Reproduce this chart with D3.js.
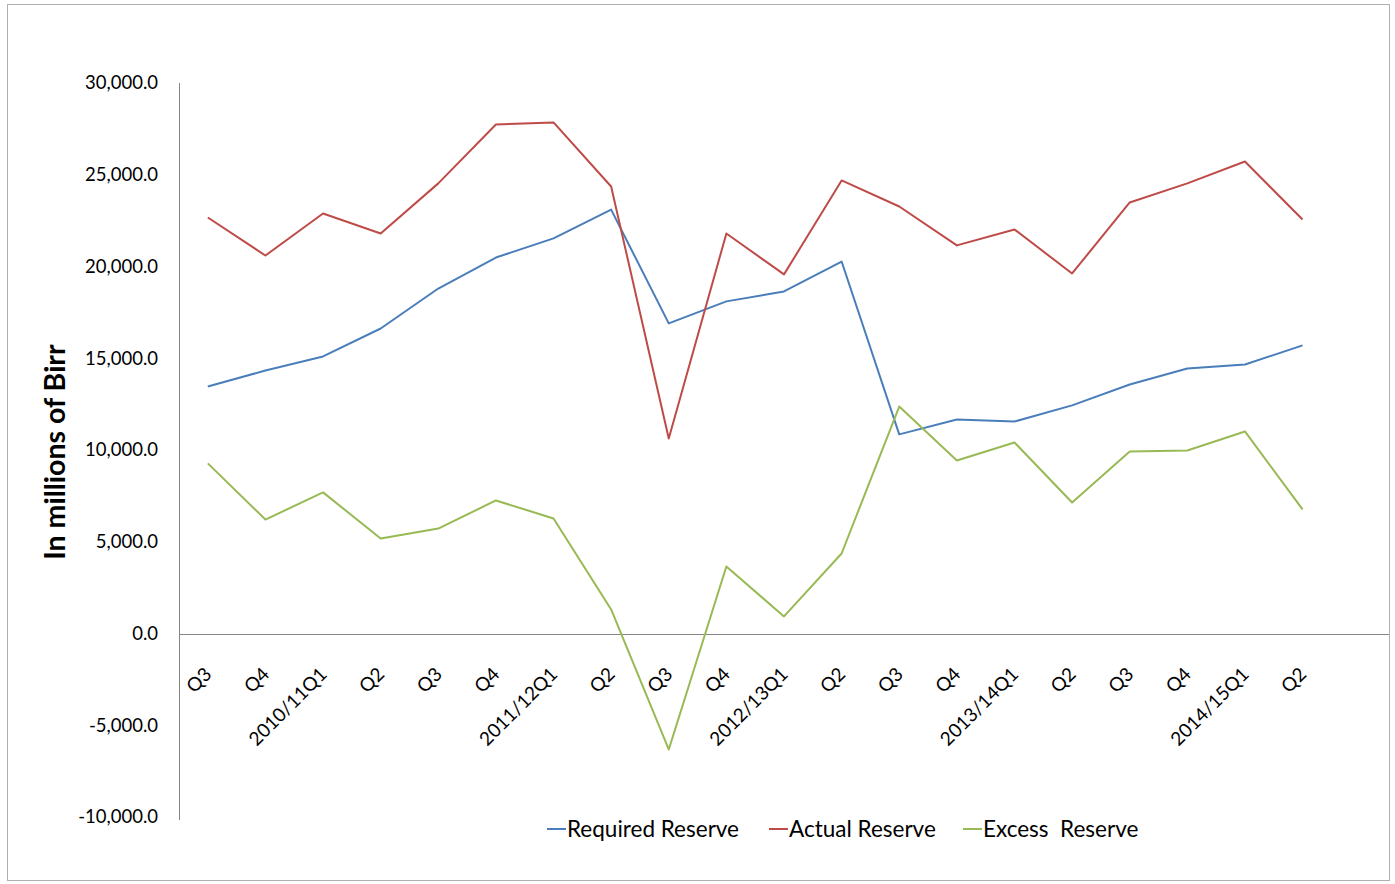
<!DOCTYPE html>
<html>
<head>
<meta charset="utf-8">
<script src="https://cdn.jsdelivr.net/npm/d3@7"></script>
<style>
  html, body { margin: 0; padding: 0; background: #fff; }
  svg { display: block; font-family: Lato, "Open Sans", "Liberation Sans", sans-serif; }
</style>
</head>
<body>
<svg id="chart" width="1395" height="884"></svg>
<script>
const categories = ["Q3","Q4","2010/11Q1","Q2","Q3","Q4","2011/12Q1","Q2","Q3","Q4","2012/13Q1","Q2","Q3","Q4","2013/14Q1","Q2","Q3","Q4","2014/15Q1","Q2"];
const requiredReserve = [13460,14330,15100,16620,18800,20490,21530,23100,16900,18100,18640,20270,10850,11660,11550,12430,13570,14440,14660,15700];
const actualReserve   = [22670,20600,22890,21800,24530,27740,27850,24360,10630,21800,19570,24690,23270,21150,22020,19620,23490,24530,25720,22560];
const excessReserve   = [9270,6210,7690,5180,5720,7250,6270,1310,-6320,3650,930,4360,12370,9430,10410,7140,9920,9970,11010,6760];
const yTicks = [30000,25000,20000,15000,10000,5000,0,-5000,-10000];
const seriesNames = ["Required Reserve","Actual Reserve","Excess  Reserve"];
const seriesColors = ["#4A7EBB","#BE4B48","#98B954"];

const svg = d3.select("#chart");

// outer border
svg.append("rect").attr("x",7.5).attr("y",4.5).attr("width",1382).attr("height",876)
  .attr("fill","none").attr("stroke","#b0b0b0").attr("stroke-width",1);

const pLeft = 179, pRight = 1389, pTop = 83, pBottom = 817;
// 21 slots: last one empty
const slots = categories.map((c,i)=>i).concat([categories.length]);
const x = d3.scaleBand().domain(slots).range([pLeft,pRight]).paddingInner(0).paddingOuter(0);
const y = d3.scaleLinear().domain([-10000,30000]).range([pBottom,pTop]);
const xc = i => x(i) + x.bandwidth()/2;

// y axis line
svg.append("line").attr("x1",pLeft+0.5).attr("x2",pLeft+0.5).attr("y1",pTop).attr("y2",pBottom+3)
  .attr("stroke","#868686").attr("stroke-width",1);
// zero line
svg.append("line").attr("x1",pLeft).attr("x2",pRight).attr("y1",Math.round(y(0))+0.5).attr("y2",Math.round(y(0))+0.5)
  .attr("stroke","#868686").attr("stroke-width",1);

// y tick labels
const fmt = d3.format(",.1f");
svg.append("g").selectAll("text").data(yTicks).join("text")
  .attr("x",158).attr("y",d=>y(d)).attr("dy","0.35em")
  .attr("text-anchor","end").attr("font-size",18.5).attr("fill","#000")
  .text(d=>fmt(d).replace("\u2212","-"));

// x tick labels rotated -45
svg.append("g").selectAll("text").data(categories).join("text")
  .attr("transform",(d,i)=>`translate(${xc(i)+5},${y(0)+42}) rotate(-45)`)
  .attr("text-anchor","end").attr("font-size",19).attr("fill","#000")
  .text(d=>d);

// y axis title
svg.append("text").attr("transform","translate(65,452) rotate(-90)")
  .attr("text-anchor","middle").attr("font-size",28.5).attr("font-weight","bold").attr("fill","#000")
  .text("In millions of Birr");

// lines
const line = d3.line().x((d,i)=>xc(i)).y(d=>y(d));
[requiredReserve, actualReserve, excessReserve].forEach((s,k)=>{
  svg.append("path").datum(s).attr("d",line).attr("fill","none")
    .attr("stroke",seriesColors[k]).attr("stroke-width",2).attr("stroke-linejoin","round");
});

// legend
const legX = [547, 769, 963];
const lg = svg.append("g");
seriesNames.forEach((n,k)=>{
  lg.append("line").attr("x1",legX[k]).attr("x2",legX[k]+19).attr("y1",829).attr("y2",829)
    .attr("stroke",seriesColors[k]).attr("stroke-width",2);
  lg.append("text").attr("x",legX[k]+20).attr("y",829).attr("dy","0.35em")
    .attr("font-size",22.5).attr("fill","#000").style("white-space","pre").text(n);
});
</script>
</body>
</html>
